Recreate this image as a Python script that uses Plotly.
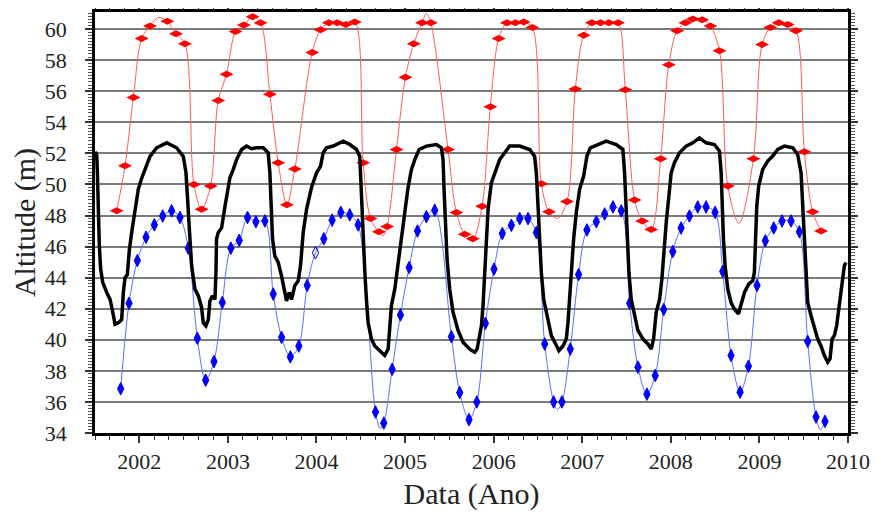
import plotly.graph_objects as go

# ---- Red series (satellite altimetry, upper) ----
red_x = [2001.745, 2001.839, 2001.933, 2002.027, 2002.121, 2002.316, 2002.414, 2002.515,
         2002.617, 2002.703, 2002.805, 2002.891, 2002.985, 2003.087, 2003.181, 2003.279,
         2003.369, 2003.474, 2003.568, 2003.666, 2003.756, 2003.952, 2004.046, 2004.140,
         2004.234, 2004.331, 2004.433, 2004.527, 2004.610, 2004.704, 2004.798, 2004.903,
         2005.004, 2005.098, 2005.192, 2005.290, 2005.485, 2005.579, 2005.674, 2005.765,
         2005.869, 2005.963, 2006.057, 2006.151, 2006.245, 2006.339, 2006.437, 2006.538,
         2006.625, 2006.828, 2006.922, 2007.016, 2007.110, 2007.207, 2007.301, 2007.403,
         2007.486, 2007.591, 2007.677, 2007.779, 2007.885, 2007.977, 2008.071, 2008.165,
         2008.248, 2008.353, 2008.447, 2008.549, 2008.643, 2008.932, 2009.030, 2009.124,
         2009.218, 2009.319, 2009.413, 2009.507, 2009.601, 2009.695]
red_y = [48.3, 51.2, 55.6, 59.4, 60.2, 60.5, 59.7, 59.06,
         50.0, 48.4, 49.9, 55.4, 57.1, 59.85, 60.26, 60.8,
         60.4, 55.8, 51.4, 48.7, 51.0, 58.5, 59.96, 60.4,
         60.4, 60.3, 60.45, 51.4, 47.8, 46.95, 47.3, 52.25,
         56.9, 59.06, 60.4, 60.4, 52.25, 48.2, 46.8, 46.5,
         48.6, 55.0, 59.4, 60.4, 60.4, 60.45, 60.1, 50.05,
         48.25, 48.9, 56.15, 59.6, 60.4, 60.4, 60.4, 60.4,
         56.1, 49.0, 47.65, 47.1, 51.65, 57.7, 59.9, 60.4,
         60.65, 60.6, 60.2, 58.6, 49.9, 51.65, 59.0, 60.1,
         60.4, 60.3, 59.9, 52.1, 48.25, 47.0]
# extra vertices of the red curve read in the gaps between markers
red_gap_x = [2002.22, 2004.75, 2005.24, 2006.72, 2008.77]
red_gap_y = [60.75, 46.7, 61.0, 47.8, 47.5]

# ---- Blue series (satellite altimetry, lower) ----
blue_x = [2001.790, 2001.884, 2001.978, 2002.076, 2002.170, 2002.264, 2002.365, 2002.459,
          2002.553, 2002.655, 2002.749, 2002.843, 2002.937, 2003.034, 2003.128, 2003.222,
          2003.316, 2003.418, 2003.512, 2003.606, 2003.705, 2003.801, 2003.895, 2003.989,
          2004.083, 2004.177, 2004.275, 2004.376, 2004.470, 2004.666, 2004.760, 2004.854,
          2004.948, 2005.046, 2005.140, 2005.241, 2005.335, 2005.523, 2005.617, 2005.722,
          2005.810, 2005.907, 2006.004, 2006.098, 2006.200, 2006.294, 2006.388, 2006.482,
          2006.576, 2006.677, 2006.771, 2006.865, 2006.959, 2007.053, 2007.159, 2007.253,
          2007.347, 2007.441, 2007.535, 2007.629, 2007.730, 2007.824, 2007.920, 2008.022,
          2008.116, 2008.210, 2008.304, 2008.398, 2008.500, 2008.586, 2008.680, 2008.782,
          2008.876, 2008.973, 2009.067, 2009.162, 2009.255, 2009.357, 2009.451, 2009.545,
          2009.639, 2009.740]
blue_y = [36.85, 42.35, 45.1, 46.6, 47.4, 47.97, 48.3, 47.87,
          45.9, 40.1, 37.4, 38.6, 42.4, 45.9, 46.4, 47.87,
          47.6, 47.65, 42.94, 40.16, 38.9, 39.6, 43.5, 45.6,
          46.5, 47.7, 48.2, 48.04, 47.4, 35.35, 34.64, 38.1,
          41.6, 44.65, 47.0, 47.93, 48.34, 40.2, 36.6, 34.86,
          36.0, 41.06, 44.55, 46.84, 47.37, 47.8, 47.8, 46.9,
          39.73, 36.0, 36.0, 39.4, 44.2, 47.07, 47.6, 48.1,
          48.55, 48.3, 42.35, 38.24, 36.5, 37.7, 41.95, 45.68,
          47.2, 47.97, 48.55, 48.55, 48.2, 44.4, 38.99, 36.63,
          38.3, 43.5, 46.37, 47.2, 47.65, 47.65, 46.95, 39.9,
          35.03, 34.75]
blue_hollow_x = [2003.989]
blue_gap_x = [2004.72, 2006.72, 2009.69]
blue_gap_y = [34.3, 35.5, 34.2]

# ---- Black series (in-situ gauge) ----
black_x = [2001.50, 2001.519, 2001.527, 2001.538, 2001.549, 2001.564, 2001.587, 2001.632, 2001.670,
           2001.700, 2001.726, 2001.764, 2001.801, 2001.820, 2001.839, 2001.865, 2001.888,
           2001.914, 2001.952, 2001.989, 2002.027, 2002.064, 2002.121, 2002.196, 2002.309,
           2002.421, 2002.497, 2002.527, 2002.545, 2002.572, 2002.591, 2002.628, 2002.666,
           2002.703, 2002.722, 2002.752, 2002.779, 2002.797, 2002.827, 2002.854, 2002.865,
           2002.872, 2002.891, 2002.929, 2002.967, 2002.993, 2003.023, 2003.061, 2003.098,
           2003.155, 2003.211, 2003.267, 2003.324, 2003.399, 2003.455, 2003.474, 2003.493,
           2003.504, 2003.530, 2003.568, 2003.606, 2003.632, 2003.662, 2003.692, 2003.719,
           2003.756, 2003.794, 2003.820, 2003.850, 2003.888, 2003.944, 2004.001, 2004.046,
           2004.076, 2004.113, 2004.189, 2004.301, 2004.377, 2004.452, 2004.489, 2004.497,
           2004.508, 2004.527, 2004.546, 2004.564, 2004.583, 2004.621, 2004.658, 2004.715,
           2004.771, 2004.809, 2004.827, 2004.846, 2004.884, 2004.921, 2004.959, 2004.997,
           2005.034, 2005.072, 2005.110, 2005.158, 2005.241, 2005.354, 2005.410, 2005.429,
           2005.440, 2005.455, 2005.474, 2005.504, 2005.542, 2005.598, 2005.655, 2005.730,
           2005.786, 2005.813, 2005.835, 2005.862, 2005.880, 2005.899, 2005.918, 2005.937,
           2005.974, 2006.023, 2006.068, 2006.125, 2006.181, 2006.294, 2006.407, 2006.463,
           2006.482, 2006.501, 2006.519, 2006.538, 2006.565, 2006.602, 2006.651, 2006.700,
           2006.737, 2006.783, 2006.820, 2006.839, 2006.858, 2006.877, 2006.903, 2006.933,
           2006.971, 2007.016, 2007.053, 2007.091, 2007.177, 2007.271, 2007.384, 2007.459,
           2007.478, 2007.497, 2007.512, 2007.527, 2007.553, 2007.591, 2007.628, 2007.685,
           2007.741, 2007.779, 2007.805, 2007.835, 2007.873, 2007.899, 2007.922, 2007.948,
           2007.970, 2008.004, 2008.041, 2008.098, 2008.173, 2008.248, 2008.323, 2008.398,
           2008.492, 2008.549, 2008.568, 2008.579, 2008.594, 2008.613, 2008.643, 2008.680,
           2008.718, 2008.763, 2008.793, 2008.831, 2008.880, 2008.925, 2008.943, 2008.955,
           2008.970, 2008.992, 2009.037, 2009.094, 2009.150, 2009.207, 2009.282, 2009.376,
           2009.432, 2009.470, 2009.489, 2009.508, 2009.526, 2009.545, 2009.583, 2009.620,
           2009.658, 2009.695, 2009.733, 2009.771, 2009.797, 2009.820, 2009.846, 2009.872,
           2009.902, 2009.932, 2009.959, 2009.977]
black_y = [52.1, 51.93, 50.75, 48.2, 46.05, 44.55, 43.7, 43.05, 42.6,
           41.8, 41.0, 41.1, 41.3, 43.05, 44.0, 44.2, 45.8,
           46.9, 48.2, 49.7, 50.4, 51.0, 51.8, 52.36, 52.68,
           52.36, 51.8, 50.75, 48.6, 46.5, 44.76, 43.26, 42.84,
           42.1, 41.1, 40.9, 41.3, 42.5, 42.84, 42.6, 44.3,
           46.5, 46.9, 47.2, 48.6, 49.47, 50.43, 50.97, 51.6,
           52.25, 52.47, 52.3, 52.36, 52.36, 52.04, 50.75, 48.6,
           46.5, 45.4, 44.98, 44.1, 43.26, 42.5, 43.05, 42.6,
           43.5, 43.8, 44.76, 46.9, 48.4, 49.8, 50.75, 51.18,
           52.04, 52.36, 52.47, 52.79, 52.57, 52.25, 51.8, 50.75,
           48.6, 46.5, 44.35, 42.6, 41.1, 40.05, 39.6, 39.3,
           38.99, 39.4, 40.9, 42.2, 43.26, 44.76, 46.5, 48.2,
           49.8, 50.97, 51.6, 52.25, 52.47, 52.57, 52.36, 51.6,
           49.7, 47.55, 45.2, 43.26, 41.77, 40.6, 39.84, 39.4,
           39.2, 39.4, 40.05, 40.9, 42.2, 44.35, 46.5, 48.4,
           50.1, 50.97, 51.6, 52.04, 52.47, 52.47, 52.25, 51.8,
           50.75, 48.6, 46.5, 44.35, 42.6, 41.55, 40.27, 39.73,
           39.3, 39.6, 40.05, 41.1, 42.84, 44.76, 46.5, 48.2,
           49.7, 50.54, 51.83, 52.36, 52.57, 52.79, 52.57, 52.25,
           50.75, 48.6, 46.5, 44.35, 42.6, 41.45, 40.6, 40.05,
           39.73, 39.4, 40.05, 41.77, 42.6, 43.9, 45.8, 47.55,
           48.8, 50.75, 51.4, 52.04, 52.47, 52.68, 53.0, 52.68,
           52.57, 52.15, 50.75, 48.6, 46.5, 44.76, 43.26, 42.4,
           41.98, 41.66, 42.2, 43.05, 43.6, 43.8, 44.35, 46.5,
           48.6, 49.9, 50.97, 51.5, 51.83, 52.25, 52.47, 52.36,
           51.93, 50.75, 48.6, 46.5, 44.35, 42.4, 41.55, 40.7,
           40.05, 39.6, 38.99, 38.56, 38.77, 40.05, 40.27, 40.9,
           42.4, 43.7, 44.76, 44.98]

x_tick_vals = [2002, 2003, 2004, 2005, 2006, 2007, 2008, 2009, 2010]
y_tick_vals = list(range(34, 61, 2))


def merged(xs, ys, gx, gy):
    pts = sorted(zip(list(xs) + list(gx), list(ys) + list(gy)))
    return [p[0] for p in pts], [p[1] for p in pts]


fig = go.Figure()

# red curve + markers
rlx, rly = merged(red_x, red_y, red_gap_x, red_gap_y)
fig.add_trace(go.Scatter(x=rlx, y=rly, mode="lines",
                         line=dict(color="#ff5a5a", width=1, shape="spline", smoothing=0.9),
                         hoverinfo="skip", showlegend=False))
fig.add_trace(go.Scatter(x=red_x, y=red_y, mode="markers",
                         marker=dict(symbol="diamond-wide", size=10, color="#ff0000",
                                     line=dict(width=0)),
                         showlegend=False))

# blue curve + markers
blx, bly = merged(blue_x, blue_y, blue_gap_x, blue_gap_y)
fig.add_trace(go.Scatter(x=blx, y=bly, mode="lines",
                         line=dict(color="#5a6cff", width=1, shape="spline", smoothing=0.9),
                         hoverinfo="skip", showlegend=False))
blue_symbols = ["diamond-tall-open" if x in blue_hollow_x else "diamond-tall" for x in blue_x]
fig.add_trace(go.Scatter(x=blue_x, y=blue_y, mode="markers",
                         marker=dict(symbol=blue_symbols, size=9, color="#0000ff",
                                     line=dict(width=1, color="#0000ff")),
                         showlegend=False))

# black gauge series
fig.add_trace(go.Scatter(x=black_x, y=black_y, mode="lines",
                         line=dict(color="black", width=3.5),
                         showlegend=False))

serif = "Liberation Serif, Times New Roman, serif"
# the page body has an 8px default margin, so the figure is sized to fit the window
fig.update_layout(
    width=870, height=511,
    margin=dict(l=87, r=30, t=4, b=86, autoexpand=False),
    paper_bgcolor="white", plot_bgcolor="white",
    font=dict(family=serif, color="#222"),
    xaxis=dict(
        range=[2001.5, 2010], tickvals=x_tick_vals,
        ticktext=[str(v) for v in x_tick_vals],
        ticks="outside", ticklen=7, tickwidth=1.5, tickcolor="#333",
        minor=dict(dtick=1 / 6, tick0=2002, ticks="outside", ticklen=4, tickcolor="#333", tickwidth=1),
        showline=True, linecolor="black", linewidth=2.5, mirror="ticks",
        showgrid=False, zeroline=False, automargin=False,
        tickfont=dict(family=serif, size=22, color="#222"),
        title=dict(text="Data (Ano)", font=dict(family=serif, size=30, color="#222"), standoff=10),
    ),
    yaxis=dict(
        range=[34, 61.1], tickvals=y_tick_vals,
        ticks="outside", ticklen=7, tickwidth=1.5, tickcolor="#333",
        minor=dict(dtick=0.2, tick0=34, ticks="outside", ticklen=4, tickcolor="#555", tickwidth=1),
        showline=True, linecolor="black", linewidth=2.5, mirror="ticks",
        showgrid=True, gridcolor="#7a7a7a", gridwidth=1.5, zeroline=False, automargin=False,
        ticklabelstandoff=14,
        tickfont=dict(family=serif, size=22, color="#222"),
        title=dict(text="Altitude (m)", font=dict(family=serif, size=30, color="#222"), standoff=4),
    ),
)

fig.write_html("out.html")
